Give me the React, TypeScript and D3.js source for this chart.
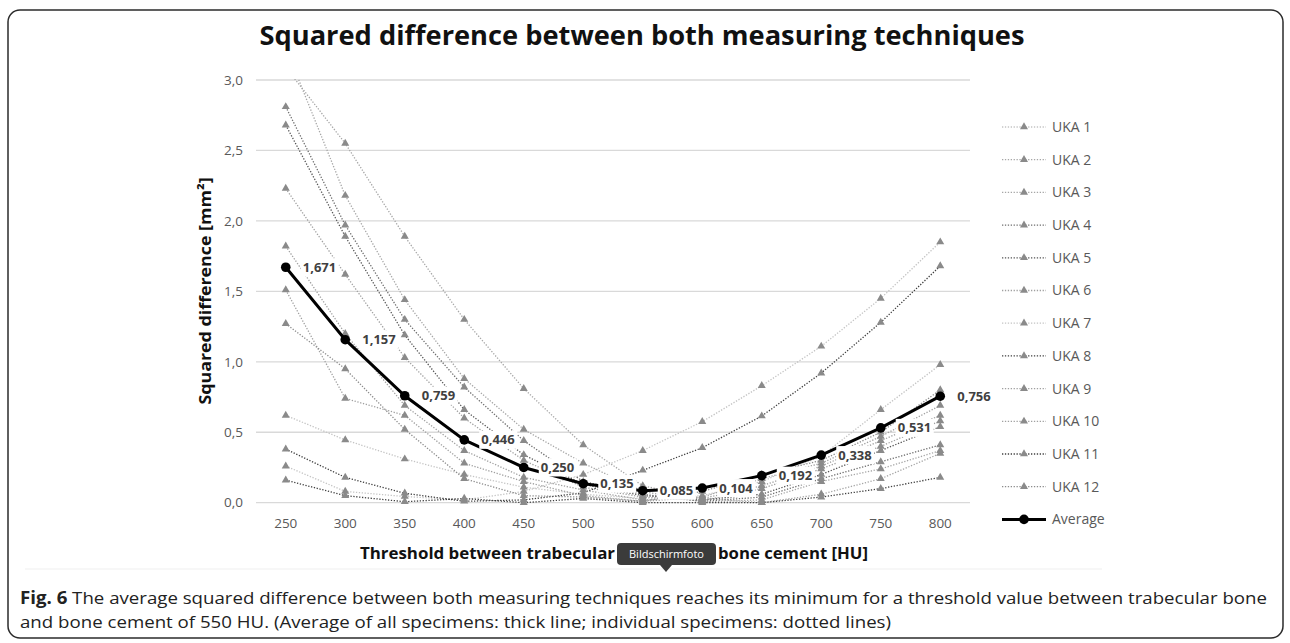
import React from 'react';
import * as d3 from 'd3';

const thresholds = [250, 300, 350, 400, 450, 500, 550, 600, 650, 700, 750, 800];
const averageValues = [1.671, 1.157, 0.759, 0.446, 0.25, 0.135, 0.085, 0.104, 0.192, 0.338, 0.531, 0.756];
const averageLabels = ['1,671', '1,157', '0,759', '0,446', '0,250', '0,135', '0,085', '0,104', '0,192', '0,338', '0,531', '0,756'];

const uka1 = [0.26, 0.08, 0.044, 0.02, 0.08, 0.2, 0.37, 0.575, 0.83, 1.11, 1.45, 1.85];
const uka2 = [3.09, 2.55, 1.89, 1.3, 0.81, 0.41, 0.12, 0.03, 0.0, 0.06, 0.17, 0.35];
const uka3 = [3.23, 2.18, 1.44, 0.88, 0.52, 0.28, 0.08, 0.005, 0.02, 0.15, 0.24, 0.37];
const uka4 = [2.81, 1.97, 1.3, 0.82, 0.44, 0.15, 0.06, 0.01, 0.04, 0.17, 0.29, 0.41];
const uka5 = [2.68, 1.89, 1.19, 0.66, 0.34, 0.13, 0.05, 0.02, 0.06, 0.2, 0.37, 0.54];
const uka6 = [2.23, 1.62, 1.03, 0.6, 0.3, 0.11, 0.04, 0.015, 0.1, 0.24, 0.4, 0.58];
const uka7 = [0.62, 0.445, 0.31, 0.2, 0.11, 0.06, 0.03, 0.05, 0.15, 0.33, 0.66, 0.98];
const uka8 = [0.38, 0.18, 0.067, 0.01, 0.02, 0.07, 0.23, 0.39, 0.615, 0.92, 1.28, 1.68];
const uka9 = [1.82, 1.2, 0.69, 0.37, 0.18, 0.09, 0.02, 0.03, 0.12, 0.26, 0.44, 0.62];
const uka10 = [1.51, 0.74, 0.62, 0.28, 0.15, 0.05, 0.01, 0.04, 0.17, 0.28, 0.47, 0.69];
const uka11 = [0.16, 0.05, 0.007, 0.03, 0.0, 0.03, 0.0, 0.0, 0.0, 0.04, 0.1, 0.18];
const uka12 = [1.27, 0.95, 0.52, 0.17, 0.05, 0.04, 0.01, 0.08, 0.2, 0.3, 0.5, 0.8];

const seriesNames = ['UKA 1', 'UKA 2', 'UKA 3', 'UKA 4', 'UKA 5', 'UKA 6', 'UKA 7', 'UKA 8', 'UKA 9', 'UKA 10', 'UKA 11', 'UKA 12'];
const seriesValues = [uka1, uka2, uka3, uka4, uka5, uka6, uka7, uka8, uka9, uka10, uka11, uka12];
const seriesColors = ['#c4c4c4', '#a6a6a6', '#a6a6a6', '#6e6e6e', '#555555', '#a0a0a0', '#c4c4c4', '#404040', '#a0a0a0', '#a0a0a0', '#404040', '#8c8c8c'];

const yTicks = [0, 0.5, 1, 1.5, 2, 2.5, 3];

const FONT = "'Open Sans', 'Noto Sans', sans-serif";

export default function App() {
  const plot = { left: 256, right: 970, top: 80, bottom: 502.7 };

  const x = d3.scalePoint<number>()
    .domain(thresholds)
    .range([plot.left, plot.right])
    .padding(0.5);

  const y = d3.scaleLinear()
    .domain([0, 3])
    .range([plot.bottom, plot.top]);

  const line = d3.line<number>()
    .x((_, i) => x(thresholds[i]) as number)
    .y(d => y(d));

  const tri = d3.symbol().type(d3.symbolTriangle).size(28)();

  const legendX = 1002;
  const legendY = d3.scaleLinear().domain([0, 1]).range([127, 159.7]);

  return (
    <svg width={1290} height={643} style={{ position: 'absolute', left: 0, top: 0, background: '#fff' }}>
      <defs>
        <clipPath id="plotClip">
          <rect x={plot.left} y={plot.top - 1} width={plot.right - plot.left} height={plot.bottom - plot.top + 8} />
        </clipPath>
      </defs>

      {/* outer frame */}
      <rect x={8} y={10} width={1275} height={628} rx={12} ry={12} fill="none" stroke="#2b2b2b" strokeWidth={1.5} />
      <line x1={25} x2={1102} y1={569} y2={569} stroke="#efefef" />

      {/* title */}
      <text x={642} y={45} textAnchor="middle" fontFamily={FONT} fontWeight="bold" fontSize={26} fill="#111"
        textLength={765} lengthAdjust="spacingAndGlyphs">
        Squared difference between both measuring techniques
      </text>

      {/* gridlines + y ticks */}
      {yTicks.map(t => (
        <g key={t}>
          <line x1={plot.left} x2={plot.right} y1={y(t)} y2={y(t)} stroke="#d9d9d9" strokeWidth={1.3} />
          <text x={243} y={y(t)} dy="0.35em" textAnchor="end" fontFamily={FONT} fontSize={13.5} fill="#595959">
            {d3.format('.1f')(t).replace('.', ',')}
          </text>
        </g>
      ))}

      {/* x ticks */}
      {thresholds.map(t => (
        <text key={t} x={x(t)} y={523} dy="0.35em" textAnchor="middle" fontFamily={FONT} fontSize={13.5} fill="#595959">
          {t}
        </text>
      ))}

      {/* axis titles */}
      <text transform={`translate(205,291) rotate(-90)`} textAnchor="middle" dy="0.35em" fontFamily={FONT}
        fontWeight="bold" fontSize={16} fill="#111" textLength={227} lengthAdjust="spacingAndGlyphs">
        Squared difference [mm²]
      </text>
      {/* x title: middle part sits under the screenshot tooltip */}
      <text x={360} y={553} dy="0.35em" fontFamily={FONT} fontWeight="bold" fontSize={16}
        fill="#111" textLength={255} lengthAdjust="spacingAndGlyphs">
        Threshold between trabecular
      </text>
      <text x={718} y={553} dy="0.35em" fontFamily={FONT} fontWeight="bold" fontSize={16}
        fill="#111" textLength={150} lengthAdjust="spacingAndGlyphs">
        bone cement [HU]
      </text>

      {/* individual specimens */}
      <g clipPath="url(#plotClip)">
        {seriesValues.map((vals, si) => (
          <path key={si} d={line(vals) || ''} fill="none" stroke={seriesColors[si]} strokeWidth={1.3}
            strokeDasharray="1.3 1.6" />
        ))}
        {seriesValues.map((vals, si) => vals.map((v, i) => (
          <path key={`${si}-${i}`} d={tri} transform={`translate(${x(thresholds[i])},${y(v)})`} fill="#8a8a8a" />
        )))}
      </g>

      {/* average */}
      <path d={line(averageValues) || ''} fill="none" stroke="#000" strokeWidth={3} />
      {averageValues.map((v, i) => (
        <circle key={i} cx={x(thresholds[i])} cy={y(v)} r={4.8} fill="#000" />
      ))}
      {averageValues.map((v, i) => (
        <g key={`lab${i}`} transform={`translate(${(x(thresholds[i]) as number) + 17},${y(v)})`}>
          <rect x={-2} y={-9} width={38} height={18} fill="#fff" />
          <text x={0} y={0} dy="0.35em" fontFamily={FONT} fontWeight="bold" fontSize={13} fill="#404040">
            {averageLabels[i]}
          </text>
        </g>
      ))}

      {/* legend */}
      {seriesNames.map((name, i) => (
        <g key={name} transform={`translate(${legendX},${legendY(i)})`}>
          <line x1={0} x2={44} y1={0} y2={0} stroke={seriesColors[i]} strokeWidth={1.3} strokeDasharray="1.3 1.6" />
          <path d={tri} transform="translate(22,0)" fill="#8a8a8a" />
          <text x={50} y={0} dy="0.35em" fontFamily={FONT} fontSize={14} fill="#595959">{name}</text>
        </g>
      ))}
      <g transform={`translate(${legendX},${legendY(12)})`}>
        <line x1={0} x2={44} y1={0} y2={0} stroke="#000" strokeWidth={3} />
        <circle cx={22} cy={0} r={4.8} fill="#000" />
        <text x={50} y={0} dy="0.35em" fontFamily={FONT} fontSize={14} fill="#595959">Average</text>
      </g>

      {/* screenshot tooltip */}
      <g>
        <rect x={617} y={543} width={99} height={22} rx={4} fill="#3b3b3b" />
        <path d="M660,565 L666,572 L672,565 Z" fill="#3b3b3b" />
        <text x={666.5} y={554} dy="0.35em" textAnchor="middle" fontFamily={FONT} fontSize={11} fill="#fff">
          Bildschirmfoto
        </text>
      </g>

      {/* caption */}
      <text x={20} y={604} fontFamily={FONT} fontSize={17} fill="#222" textLength={1247} lengthAdjust="spacingAndGlyphs">
        <tspan fontWeight="bold">Fig. 6</tspan> The average squared difference between both measuring techniques reaches its minimum for a threshold value between trabecular bone
      </text>
      <text x={20} y={628} fontFamily={FONT} fontSize={17} fill="#222" textLength={871} lengthAdjust="spacingAndGlyphs">
        and bone cement of 550 HU. (Average of all specimens: thick line; individual specimens: dotted lines)
      </text>
    </svg>
  );
}
